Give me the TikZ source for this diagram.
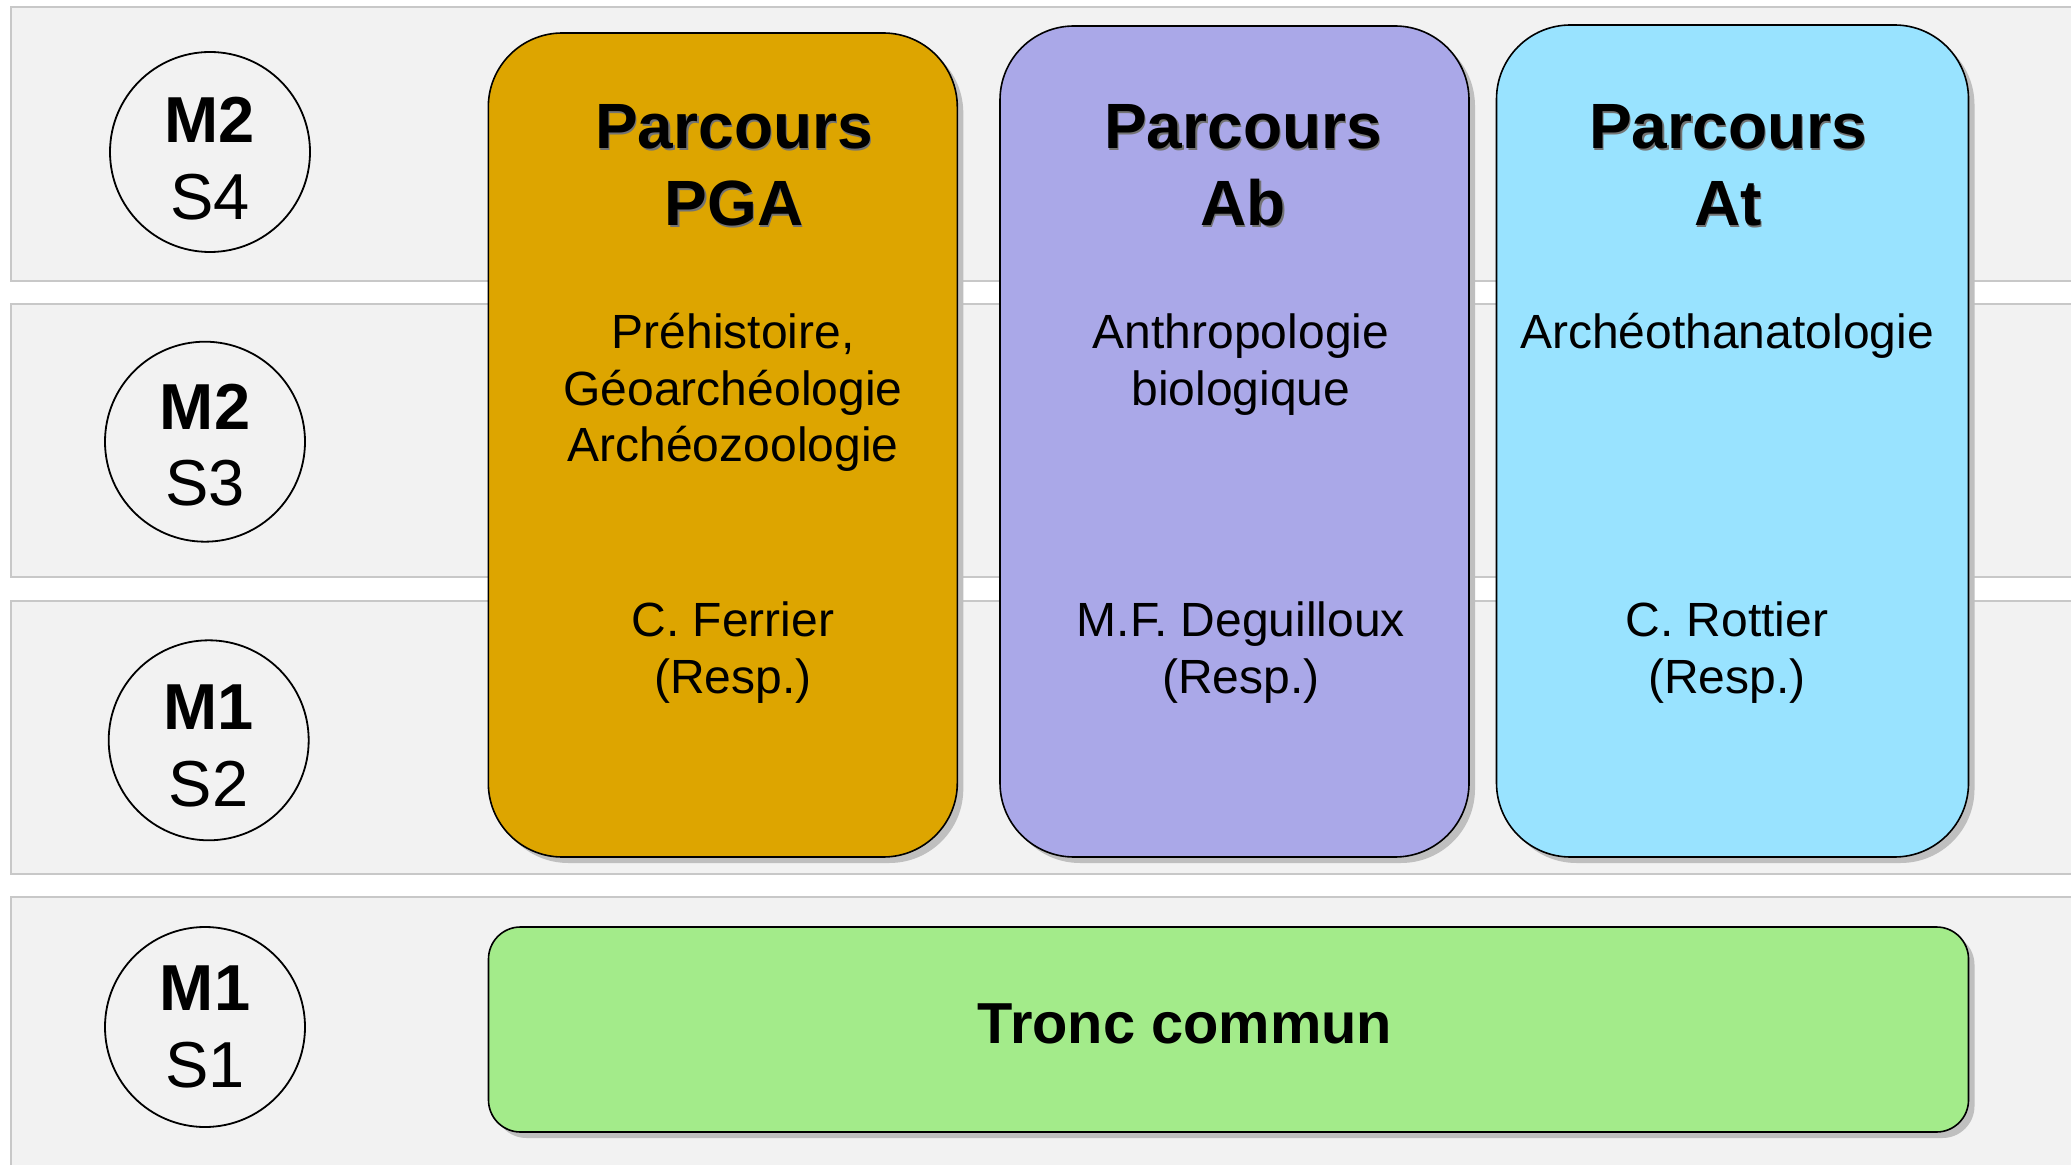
\documentclass[tikz,border=0pt]{standalone}
\usepackage{fontspec}
\setmainfont{Liberation Sans}
\usetikzlibrary{shadows}
\definecolor{bandfill}{HTML}{F2F2F2}
\definecolor{bandline}{HTML}{C8C8C8}
\definecolor{pgacol}{HTML}{DDA500}
\definecolor{abcol}{HTML}{AAA8E8}
\definecolor{atcol}{HTML}{99E3FF}
\definecolor{troncol}{HTML}{A3EB8A}
\begin{document}
\begin{tikzpicture}[x=0.5pt,y=-0.5pt,
  band/.style={fill=bandfill,draw=bandline,line width=0.8pt},
  parc/.style={draw=black,line width=0.8pt,rectangle,inner sep=0pt,
     drop shadow={shadow xshift=3pt,shadow yshift=-3pt,fill=black!25,opacity=1}},
  sem/.style={circle,draw=black,line width=0.9pt,minimum size=100pt,inner sep=0pt},
  semtop/.style={anchor=base,inner sep=0pt,font=\fontsize{32.5}{38}\selectfont\bfseries},
  sembot/.style={anchor=base,inner sep=0pt,font=\fontsize{32.5}{38}\selectfont},
  ttl/.style={anchor=base,inner sep=0pt,font=\fontsize{32}{38}\selectfont\bfseries},
  ttlsh/.style={ttl,text=black!55},
  body/.style={anchor=base,inner sep=0pt,font=\fontsize{24}{28}\selectfont},
]
\useasboundingbox (0,0) rectangle (2071,1165);
\clip (0,0) rectangle (2071,1165);
\fill[white] (0,0) rectangle (2071,1165);

% bands
\draw[band] (11,7) rectangle (2100,281);
\draw[band] (11,304) rectangle (2100,577);
\draw[band] (11,601) rectangle (2100,874);
\draw[band] (11,897) rectangle (2100,1190);

% semester circles
\node[sem] (c4) at (210,152) {};
\node[sem] (c3) at (205,441.7) {};
\node[sem] (c2) at (208.7,740.3) {};
\node[sem] (c1) at (205,1027) {};
\node[semtop] (c4a) at (210,143) {M2};
\node[sembot] (c4b) at (210,219.5) {S4};
\node[semtop] (c3a) at (205,429.3) {M2};
\node[sembot] (c3b) at (205,505.8) {S3};
\node[semtop] (c2a) at (208.7,729.5) {M1};
\node[sembot] (c2b) at (208.7,806) {S2};
\node[semtop] (c1a) at (205,1010.7) {M1};
\node[sembot] (c1b) at (205,1087.3) {S1};

% parcours boxes
\node[parc,fill=pgacol,rounded corners=37pt,minimum width=234.5pt,minimum height=412pt] (pga) at (722.8,445) {};
\node[parc,fill=abcol,rounded corners=37pt,minimum width=234.5pt,minimum height=415.5pt] (ab) at (1234.5,441.5) {};
\node[parc,fill=atcol,rounded corners=37pt,minimum width=236pt,minimum height=416pt] (at) at (1732.5,441) {};
\node[parc,fill=troncol,rounded corners=16pt,minimum width=740pt,minimum height=102.5pt] (tronc) at (1228.5,1029.5) {};

% titles
\node[ttlsh] (pgat1s) at (735.5,150.5) {Parcours};
\node[ttlsh] (pgat2s) at (735.5,227.2) {PGA};
\node[ttl] (pgat1) at (734,149) {Parcours};
\node[ttl] (pgat2) at (734,225.7) {PGA};
\node[ttlsh] (abt1s) at (1244.5,150.5) {Parcours};
\node[ttlsh] (abt2s) at (1244.5,227.2) {Ab};
\node[ttl] (abt1) at (1243,149) {Parcours};
\node[ttl] (abt2) at (1243,225.7) {Ab};
\node[ttlsh] (att1s) at (1729.5,150.5) {Parcours};
\node[ttlsh] (att2s) at (1729.5,227.2) {At};
\node[ttl] (att1) at (1728,149) {Parcours};
\node[ttl] (att2) at (1728,225.7) {At};

% descriptions
\node[body] (pgad1) at (733,349) {Préhistoire,};
\node[body] (pgad2) at (733,405.5) {Géoarchéologie};
\node[body] (pgad3) at (733,462) {Archéozoologie};
\node[body] (abd1) at (1241,349) {Anthropologie};
\node[body] (abd2) at (1241,405.5) {biologique};
\node[body] (atd1) at (1727,349) {Archéothanatologie};

% responsables
\node[body] (pgar1) at (733,636.7) {C. Ferrier};
\node[body] (pgar2) at (733,693) {(Resp.)};
\node[body] (abr1) at (1241,636.7) {M.F. Deguilloux};
\node[body] (abr2) at (1241,693) {(Resp.)};
\node[body] (atr1) at (1727,636.7) {C. Rottier};
\node[body] (atr2) at (1727,693) {(Resp.)};

% tronc commun
\node[anchor=base,inner sep=0pt,font=\fontsize{28.9}{34}\selectfont\bfseries] (tronct) at (1185,1043) {Tronc commun};
\end{tikzpicture}
\end{document}
